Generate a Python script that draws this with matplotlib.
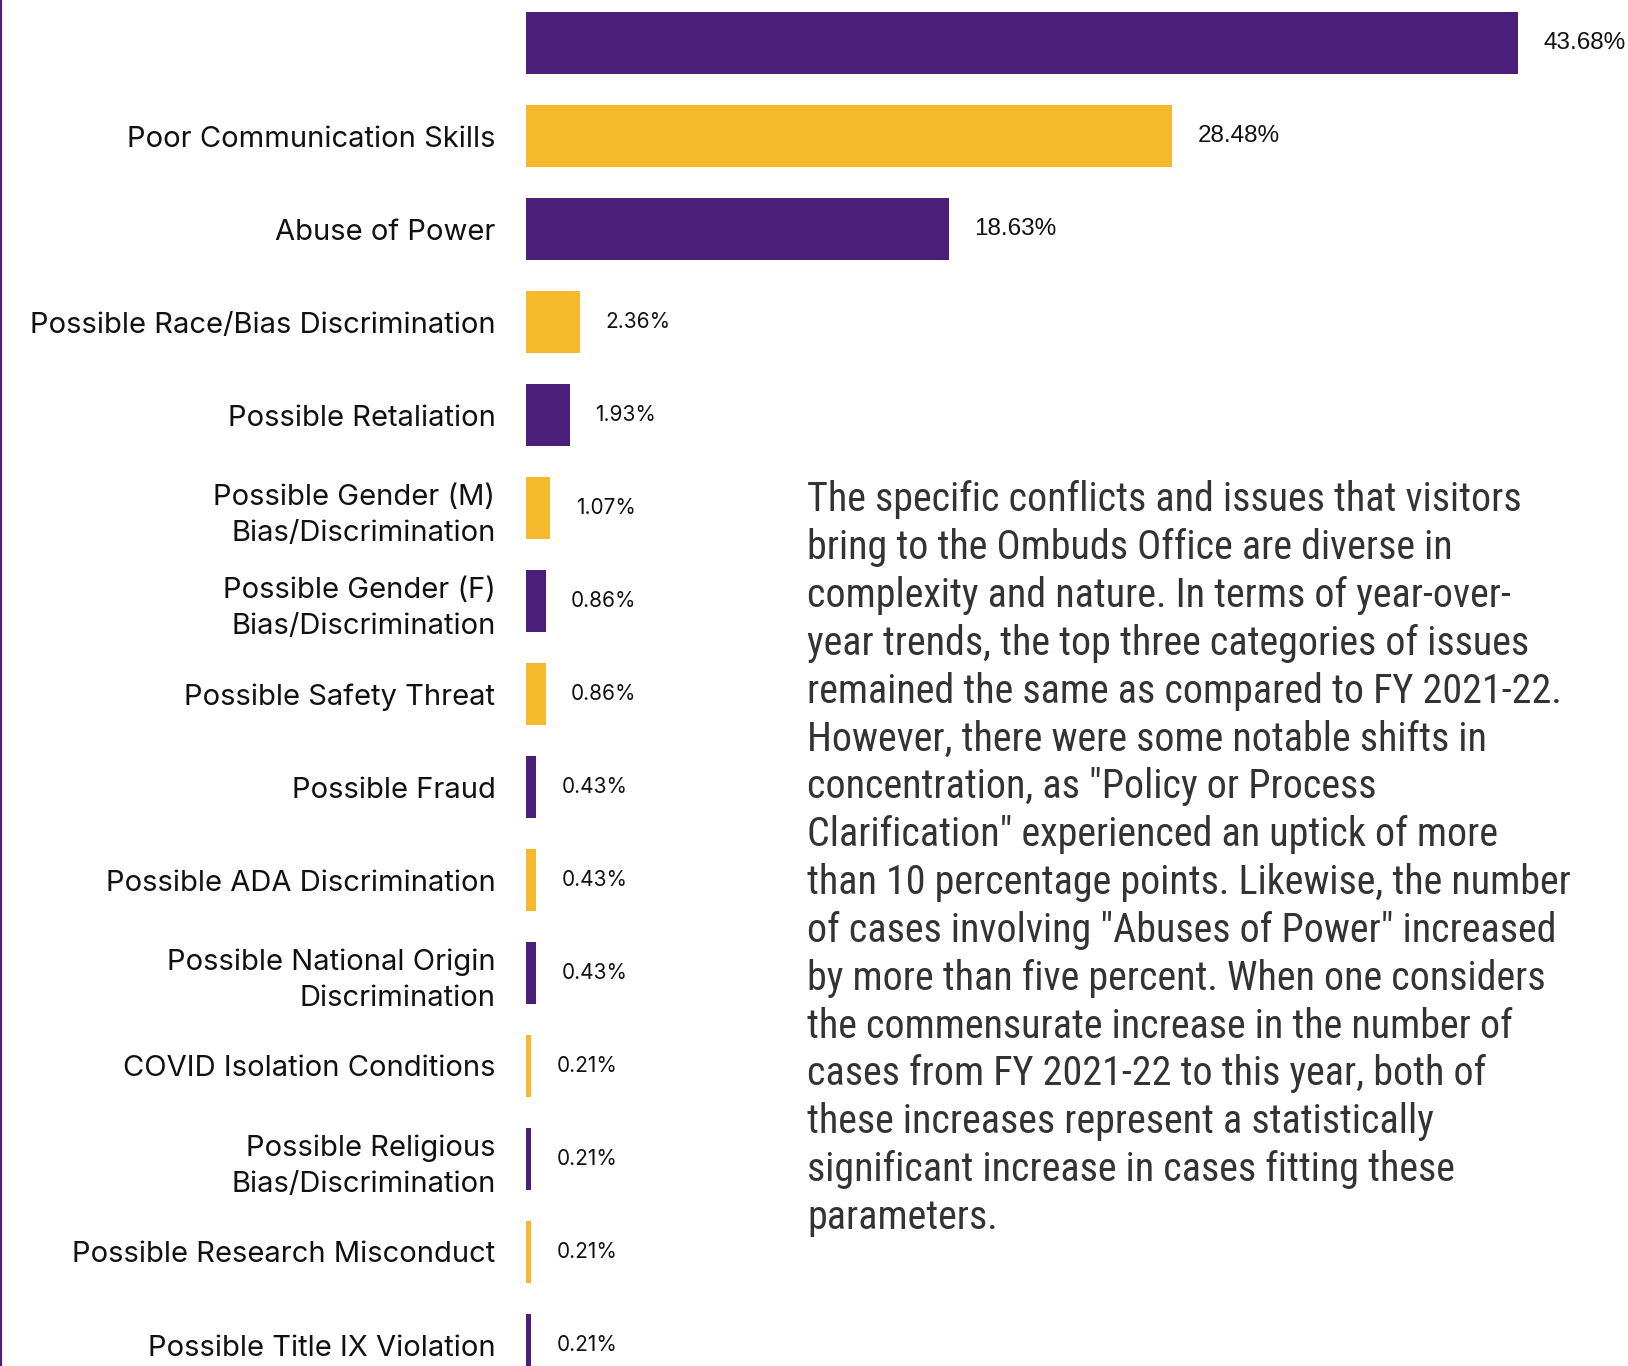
import matplotlib
matplotlib.use("Agg")
import matplotlib.pyplot as plt
from matplotlib.lines import Line2D
from matplotlib import font_manager
from matplotlib.font_manager import FontProperties

categories = ["", "Poor Communication Skills", "Abuse of Power",
              "Possible Race/Bias Discrimination", "Possible Retaliation",
              "Possible Gender (M)\nBias/Discrimination",
              "Possible Gender (F)\nBias/Discrimination",
              "Possible Safety Threat", "Possible Fraud",
              "Possible ADA Discrimination",
              "Possible National Origin\nDiscrimination",
              "COVID Isolation Conditions",
              "Possible Religious\nBias/Discrimination",
              "Possible Research Misconduct", "Possible Title IX Violation"]
values = [43.68, 28.48, 18.63, 2.36, 1.93, 1.07, 0.86, 0.86, 0.43, 0.43,
          0.43, 0.21, 0.21, 0.21, 0.21]
value_labels = ["43.68%", "28.48%", "18.63%", "2.36%", "1.93%", "1.07%",
                "0.86%", "0.86%", "0.43%", "0.43%", "0.43%", "0.21%",
                "0.21%", "0.21%", "0.21%"]

body_lines = [
    "The specific conflicts and issues that visitors",
    "bring to the Ombuds Office are diverse in",
    "complexity and nature. In terms of year-over-",
    "year trends, the top three categories of issues",
    "remained the same as compared to FY 2021-22.",
    "However, there were some notable shifts in",
    "concentration, as \"Policy or Process",
    "Clarification\" experienced an uptick of more",
    "than 10 percentage points. Likewise, the number",
    "of cases involving \"Abuses of Power\" increased",
    "by more than five percent. When one considers",
    "the commensurate increase in the number of",
    "cases from FY 2021-22 to this year, both of",
    "these increases represent a statistically",
    "significant increase in cases fitting these",
    "parameters.",
]

PURPLE = "#4B1E7A"
GOLD = "#F5B92E"
colors = [PURPLE if i % 2 == 0 else GOLD for i in range(len(values))]


def find_condensed():
    prefs = ["roboto", "open sans", "noto sans", "dejavu sans", "liberation"]
    cands = []
    for f in font_manager.fontManager.ttflist:
        fn = f.fname.lower()
        st = str(f.stretch).lower()
        is_cond = ("condensed" in st or "narrow" in fn or "condensed" in fn
                   or st in ("semi-condensed", "condensed", "extra-condensed"))
        if not is_cond:
            continue
        if "extra" in fn or "semi" in fn or "ultra" in fn:
            continue
        if f.style != "normal":
            continue
        w = f.weight
        if isinstance(w, str):
            ok = w in ("normal", "regular", "book")
        else:
            ok = 350 <= w <= 450
        if not ok:
            continue
        if "mono" in fn or "serif" in f.name.lower() and "sans" not in f.name.lower():
            continue
        rank = len(prefs)
        for k, p in enumerate(prefs):
            if p in f.name.lower():
                rank = k
                break
        cands.append((rank, f.fname))
    if cands:
        cands.sort()
        return FontProperties(fname=cands[0][1])
    return FontProperties(family="Roboto")


body_fp = find_condensed()
label_font = "Inter"

W, H = 1628, 1366
fig = plt.figure(figsize=(W / 100, H / 100), dpi=100)
fig.patch.set_facecolor("white")

px_per_pct = 22.7
ax_left = 526
ax = fig.add_axes([ax_left / W, 0, (W - ax_left) / W, 1])
ax.set_xlim(0, (W - ax_left) / px_per_pct)
pitch = 93.0
c0 = 43.0
ax.set_ylim((H - c0) / pitch, -c0 / pitch)

ypos = list(range(len(values)))
ax.barh(ypos, values, height=0.667, color=colors)

ax.set_yticks(ypos)
ax.set_yticklabels(categories, fontsize=21, family=label_font,
                   linespacing=1.42, color="#111111")
ax.tick_params(axis="y", length=0, pad=22)
ax.set_xticks([])
for s in ax.spines.values():
    s.set_visible(False)
ax.patch.set_alpha(0)

for i, (v, lab) in enumerate(zip(values, value_labels)):
    fam = "Liberation Sans" if i < 3 else label_font
    ax.annotate(lab, xy=(v, i), xytext=(18.5, 0), textcoords="offset points",
                ha="left", va="center", fontsize=17.5 if i < 3 else 15,
                family=fam, color="#111111")

fig.add_artist(Line2D([1 / W, 1 / W], [0, 1], color=PURPLE, lw=1.6,
                      transform=fig.transFigure))

# body text: size chosen so the longest line spans the same width as the reference
body_fp.set_size(28.4)
renderer = fig.canvas.get_renderer()
probe = fig.text(0, 0, body_lines[8], fontproperties=body_fp)
wpx = probe.get_window_extent(renderer).width
probe.remove()
size = min(29.0, 28.4 * 763.0 / wpx)
body_fp.set_size(size)
line_px = 48.4
ls = line_px / (size * 100 / 72 * 0.94)

# baseline alignment refers to the last line of a multi-line text
fig.text(807 / W, 1 - 1229 / H, "\n".join(body_lines), fontproperties=body_fp,
         color="#333333", va="baseline", ha="left", linespacing=ls)

fig.savefig("out.png", dpi=100)
